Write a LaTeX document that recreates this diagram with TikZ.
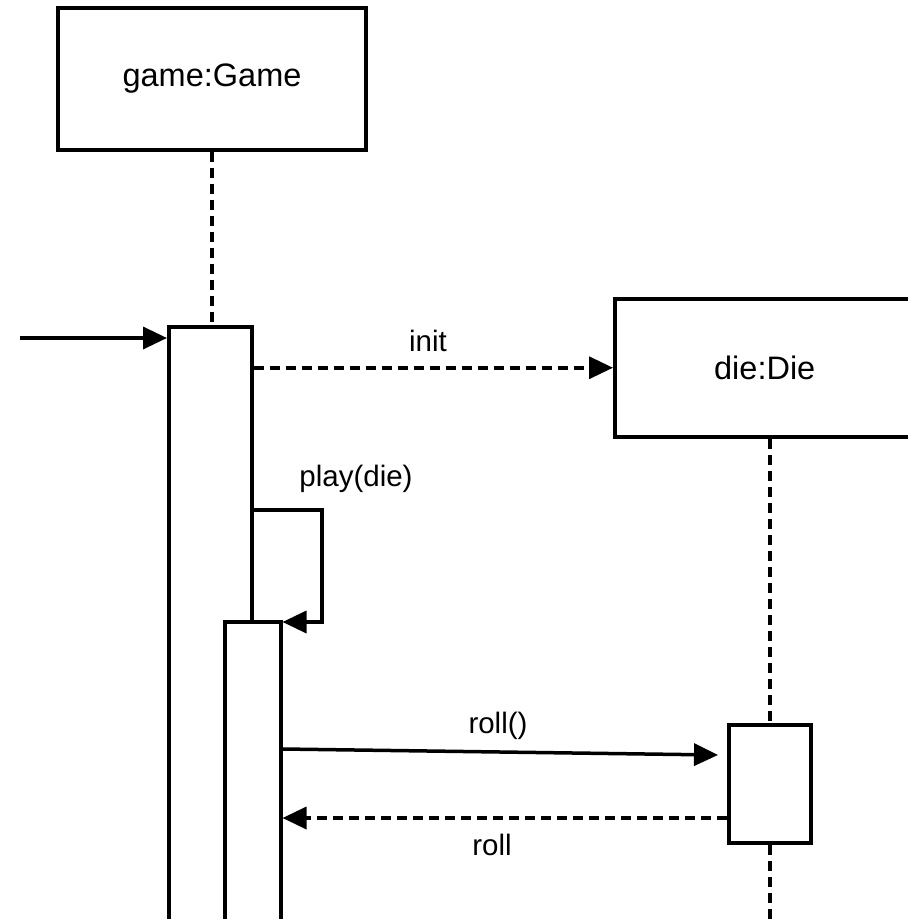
\documentclass[tikz,border=0pt]{standalone}
\usepackage{fontspec}
\setmainfont{Liberation Sans}
\usetikzlibrary{
    arrows.meta,
    positioning,
    calc,
}

\begin{document}
\begin{tikzpicture}[x=1pt, y=-1pt,
        obj/.style={draw, line width=3.5pt, fill=white, inner sep=0pt, font=\fontsize{32.5}{38}\selectfont},
        bar/.style={draw, line width=3.5pt, fill=white, inner sep=0pt, anchor=north west},
        life/.style={line width=3.5pt, dash pattern=on 10pt off 6pt},
        msg/.style={line width=3.5pt, -{Triangle[length=24pt, width=22pt]}},
        lbl/.style={font=\fontsize{29.5}{34}\selectfont}]
        \useasboundingbox (0,0) rectangle (908,919);
        \clip (0,0) rectangle (908,919);
        \node[obj, minimum width=308pt, minimum height=142pt] (game) at (212,79) {game:Game};
        \node[obj, anchor=north west, minimum width=300pt, minimum height=138pt] (die) at (613,297) {die:Die};
        \node[bar, minimum width=83pt, minimum height=620pt] (act1) at (167,325) {};
        \node[bar, minimum width=56pt, minimum height=320pt] (act2) at (223,620) {};
        \node[bar, minimum width=82pt, minimum height=118pt] (act3) at (727,723) {};
        \draw[life] (game.south) -- (game.south |- act1.north);
        \draw[life] (act3.north |- die.south) -- (act3.north);
        \draw[life] (act3.south) -- ++(0,100);
        \coordinate (entry) at (20,338);
        \draw[msg] (entry) -- (entry -| act1.west);
        \draw[msg, life] (act1.east |- die.west) -- (die.west);
        \node[lbl] (initlbl) at (428,341) {init};
        \coordinate (self) at (322,510);
        \draw[msg] (self -| act1.east) -- (self) -- ($(self |- act2.north)+(0,2)$) -- ($(act2.north east)+(0,2)$);
        \node[lbl] (playlbl) at (356,479) {play(die)};
        \draw[msg] ($(act2.north east)+(0,129)$) -- ($(act3.north west)+(-9,32)$);
        \node[lbl] (rolllbl) at (498,726) {roll()};
        \draw[msg, life] ($(act3.north west)+(0,95)$) -- ($(act2.north east)+(0,198)$);
        \node[lbl] (retlbl) at (492,845) {roll};
    \end{tikzpicture}
\end{document}
